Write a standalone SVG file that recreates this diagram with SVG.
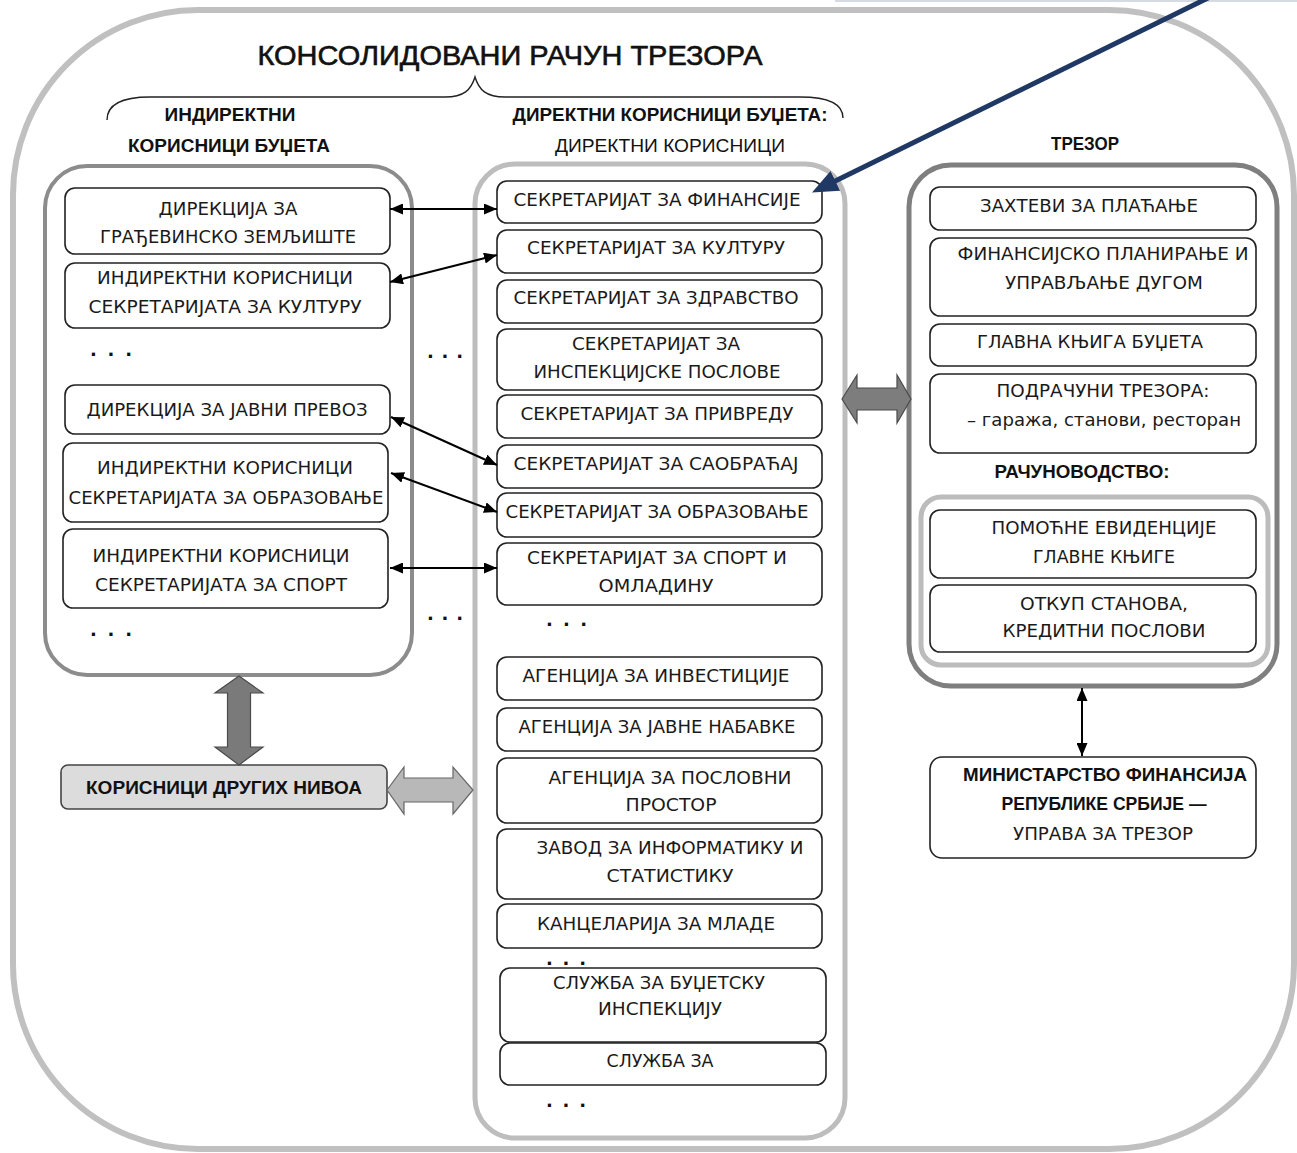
<svg xmlns="http://www.w3.org/2000/svg" width="1297" height="1153" viewBox="0 0 1297 1153">
<style>
.box{fill:#fff;stroke:#222;stroke-width:1.6}
.t{font-family:"DejaVu Sans",Verdana,sans-serif;font-size:18px;fill:#1a1a1a;text-anchor:middle}
.b{font-family:"Liberation Sans",Arial,sans-serif;font-weight:bold;fill:#111;text-anchor:middle}
.n{font-family:"Liberation Sans",Arial,sans-serif;fill:#111;text-anchor:middle}
.dots{font-family:"DejaVu Sans",sans-serif;font-weight:bold;font-size:18px;fill:#111}
.conn{stroke:#000;stroke-width:2;fill:none;marker-start:url(#ah);marker-end:url(#ah)}
.cont{fill:#fff}
</style>
<defs>
<marker id="ah" viewBox="0 0 13 11" refX="13" refY="5.5" markerWidth="13" markerHeight="11" markerUnits="userSpaceOnUse" orient="auto-start-reverse"><path d="M0,0 L13,5.5 L0,11 z" fill="#000"/></marker>
<marker id="blue" viewBox="0 0 26 22" refX="16" refY="11" markerWidth="26" markerHeight="22" markerUnits="userSpaceOnUse" orient="auto"><path d="M0,0 L26,11 L0,22 z" fill="#1f3864"/></marker>
</defs>
<rect width="1297" height="1153" fill="#fff"/>
<line x1="835" y1="1" x2="1297" y2="1" stroke="#d6dae2" stroke-width="2"/>
<g id="frame"><rect x="13" y="10" width="1281" height="1139" rx="185" fill="none" stroke="#c0c0c0" stroke-width="6"/></g>

<g id="title"><text class="n" x="510" y="65" font-size="27" stroke="#111" stroke-width="0.6" textLength="505" lengthAdjust="spacingAndGlyphs">КОНСОЛИДОВАНИ РАЧУН ТРЕЗОРА</text></g>
<g id="brace"><path d="M107,120 C107,105 120,97 150,97 L445,97 C464,97 471,90 475,77 C479,90 486,97 505,97 L800,97 C830,97 843,105 843,118" fill="none" stroke="#222" stroke-width="1.4"/></g>

<g id="h-indirect">
<text class="b" x="230" y="121" font-size="18" textLength="131" lengthAdjust="spacingAndGlyphs">ИНДИРЕКТНИ</text>
<text class="b" x="229" y="152" font-size="18" textLength="202" lengthAdjust="spacingAndGlyphs">КОРИСНИЦИ БУЏЕТА</text>
</g>
<g id="h-direct">
<text class="b" x="670" y="121" font-size="18" textLength="315" lengthAdjust="spacingAndGlyphs">ДИРЕКТНИ КОРИСНИЦИ БУЏЕТА:</text>
<text class="n" x="670" y="152" font-size="18" textLength="230" lengthAdjust="spacingAndGlyphs">ДИРЕКТНИ КОРИСНИЦИ</text>
</g>
<g id="h-trezor"><text class="b" x="1085" y="150" font-size="18" textLength="68" lengthAdjust="spacingAndGlyphs">ТРЕЗОР</text></g>

<g id="left-container"><rect class="cont" x="45" y="166" width="367" height="509" rx="42" stroke="#8c8c8c" stroke-width="4"/></g>
<g id="middle-container"><rect class="cont" x="475" y="164" width="370" height="974" rx="40" stroke="#bdbdbd" stroke-width="5"/></g>
<g id="trezor-container"><rect class="cont" x="909" y="165" width="368" height="521" rx="42" stroke="#7f7f7f" stroke-width="5"/></g>

<g id="L1"><rect class="box" x="65" y="188" width="325" height="66" rx="10"/>
<text class="t" x="228" y="215" textLength="139" lengthAdjust="spacingAndGlyphs">ДИРЕКЦИЈА ЗА</text>
<text class="t" x="228" y="243" textLength="256" lengthAdjust="spacingAndGlyphs">ГРАЂЕВИНСКО ЗЕМЉИШТЕ</text></g>
<g id="L2"><rect class="box" x="65" y="263" width="325" height="65" rx="10"/>
<text class="t" x="225" y="284" textLength="256" lengthAdjust="spacingAndGlyphs">ИНДИРЕКТНИ КОРИСНИЦИ</text>
<text class="t" x="225" y="313" textLength="273" lengthAdjust="spacingAndGlyphs">СЕКРЕТАРИЈАТА ЗА КУЛТУРУ</text></g>
<text class="dots" x="90" y="356" textLength="42" lengthAdjust="spacing">. . .</text>
<g id="L3"><rect class="box" x="65" y="385" width="325" height="49" rx="10"/>
<text class="t" x="227" y="416" textLength="281" lengthAdjust="spacingAndGlyphs">ДИРЕКЦИЈА ЗА ЈАВНИ ПРЕВОЗ</text></g>
<g id="L4"><rect class="box" x="63" y="443" width="325" height="79" rx="10"/>
<text class="t" x="225" y="474" textLength="256" lengthAdjust="spacingAndGlyphs">ИНДИРЕКТНИ КОРИСНИЦИ</text>
<text class="t" x="226" y="504" textLength="315" lengthAdjust="spacingAndGlyphs">СЕКРЕТАРИЈАТА ЗА ОБРАЗОВАЊЕ</text></g>
<g id="L5"><rect class="box" x="63" y="529" width="325" height="79" rx="10"/>
<text class="t" x="221" y="562" textLength="257" lengthAdjust="spacingAndGlyphs">ИНДИРЕКТНИ КОРИСНИЦИ</text>
<text class="t" x="221" y="591" textLength="252" lengthAdjust="spacingAndGlyphs">СЕКРЕТАРИЈАТА ЗА СПОРТ</text></g>
<text class="dots" x="90" y="636" textLength="42" lengthAdjust="spacing">. . .</text>
<text class="dots" x="427" y="358" textLength="36" lengthAdjust="spacing">. . .</text>
<text class="dots" x="427" y="620" textLength="36" lengthAdjust="spacing">. . .</text>

<g id="M1"><rect class="box" x="497" y="181" width="325" height="42" rx="10"/>
<text class="t" x="657" y="206" textLength="287" lengthAdjust="spacingAndGlyphs">СЕКРЕТАРИЈАТ ЗА ФИНАНСИЈЕ</text></g>
<g id="M2"><rect class="box" x="497" y="230" width="325" height="43" rx="10"/>
<text class="t" x="656" y="254" textLength="258" lengthAdjust="spacingAndGlyphs">СЕКРЕТАРИЈАТ ЗА КУЛТУРУ</text></g>
<g id="M3"><rect class="box" x="497" y="280" width="325" height="43" rx="10"/>
<text class="t" x="656" y="304" textLength="285" lengthAdjust="spacingAndGlyphs">СЕКРЕТАРИЈАТ ЗА ЗДРАВСТВО</text></g>
<g id="M4"><rect class="box" x="497" y="329" width="325" height="61" rx="10"/>
<text class="t" x="656" y="350" textLength="168" lengthAdjust="spacingAndGlyphs">СЕКРЕТАРИЈАТ ЗА</text>
<text class="t" x="657" y="378" textLength="247" lengthAdjust="spacingAndGlyphs">ИНСПЕКЦИЈСКЕ ПОСЛОВЕ</text></g>
<g id="M5"><rect class="box" x="497" y="395" width="325" height="43" rx="10"/>
<text class="t" x="657" y="420" textLength="273" lengthAdjust="spacingAndGlyphs">СЕКРЕТАРИЈАТ ЗА ПРИВРЕДУ</text></g>
<g id="M6"><rect class="box" x="497" y="445" width="325" height="43" rx="10"/>
<text class="t" x="656" y="470" textLength="285" lengthAdjust="spacingAndGlyphs">СЕКРЕТАРИЈАТ ЗА САОБРАЋАЈ</text></g>
<g id="M7"><rect class="box" x="497" y="493" width="325" height="44" rx="10"/>
<text class="t" x="657" y="518" textLength="303" lengthAdjust="spacingAndGlyphs">СЕКРЕТАРИЈАТ ЗА ОБРАЗОВАЊЕ</text></g>
<g id="M8"><rect class="box" x="497" y="543" width="325" height="62" rx="10"/>
<text class="t" x="657" y="564" textLength="260" lengthAdjust="spacingAndGlyphs">СЕКРЕТАРИЈАТ ЗА СПОРТ И</text>
<text class="t" x="656" y="592" textLength="115" lengthAdjust="spacingAndGlyphs">ОМЛАДИНУ</text></g>
<text class="dots" x="546" y="626" textLength="41" lengthAdjust="spacing">. . .</text>
<g id="M9"><rect class="box" x="497" y="657" width="325" height="43" rx="10"/>
<text class="t" x="656" y="682" textLength="267" lengthAdjust="spacingAndGlyphs">АГЕНЦИЈА ЗА ИНВЕСТИЦИЈЕ</text></g>
<g id="M10"><rect class="box" x="497" y="708" width="325" height="43" rx="10"/>
<text class="t" x="657" y="733" textLength="277" lengthAdjust="spacingAndGlyphs">АГЕНЦИЈА ЗА ЈАВНЕ НАБАВКЕ</text></g>
<g id="M11"><rect class="box" x="497" y="758" width="325" height="65" rx="10"/>
<text class="t" x="670" y="784" textLength="243" lengthAdjust="spacingAndGlyphs">АГЕНЦИЈА ЗА ПОСЛОВНИ</text>
<text class="t" x="671" y="811" textLength="91" lengthAdjust="spacingAndGlyphs">ПРОСТОР</text></g>
<g id="M12"><rect class="box" x="497" y="829" width="325" height="70" rx="10"/>
<text class="t" x="670" y="854" textLength="267" lengthAdjust="spacingAndGlyphs">ЗАВОД ЗА ИНФОРМАТИКУ И</text>
<text class="t" x="670" y="882" textLength="127" lengthAdjust="spacingAndGlyphs">СТАТИСТИКУ</text></g>
<g id="M13"><rect class="box" x="497" y="904" width="325" height="44" rx="10"/>
<text class="t" x="656" y="930" textLength="238" lengthAdjust="spacingAndGlyphs">КАНЦЕЛАРИЈА ЗА МЛАДЕ</text></g>
<text class="dots" x="546" y="965" textLength="40" lengthAdjust="spacing">. . .</text>
<g id="M14"><rect class="box" x="500" y="968" width="326" height="74" rx="10"/>
<text class="t" x="659" y="989" textLength="212" lengthAdjust="spacingAndGlyphs">СЛУЖБА ЗА БУЏЕТСКУ</text>
<text class="t" x="660" y="1015" textLength="124" lengthAdjust="spacingAndGlyphs">ИНСПЕКЦИЈУ</text></g>
<g id="M15"><rect class="box" x="500" y="1043" width="326" height="42" rx="10"/>
<text class="t" x="660" y="1067" textLength="107" lengthAdjust="spacingAndGlyphs">СЛУЖБА ЗА</text></g>
<text class="dots" x="546" y="1107" textLength="40" lengthAdjust="spacing">. . .</text>

<g id="T1"><rect class="box" x="930" y="187" width="326" height="43" rx="10"/>
<text class="t" x="1089" y="212" textLength="218" lengthAdjust="spacingAndGlyphs">ЗАХТЕВИ ЗА ПЛАЋАЊЕ</text></g>
<g id="T2"><rect class="box" x="930" y="238" width="326" height="78" rx="10"/>
<text class="t" x="1103" y="260" textLength="291" lengthAdjust="spacingAndGlyphs">ФИНАНСИЈСКО ПЛАНИРАЊЕ И</text>
<text class="t" x="1104" y="289" textLength="198" lengthAdjust="spacingAndGlyphs">УПРАВЉАЊЕ ДУГОМ</text></g>
<g id="T3"><rect class="box" x="930" y="324" width="326" height="42" rx="10"/>
<text class="t" x="1090" y="348" textLength="226" lengthAdjust="spacingAndGlyphs">ГЛАВНА КЊИГА БУЏЕТА</text></g>
<g id="T4"><rect class="box" x="930" y="374" width="326" height="79" rx="10"/>
<text class="t" x="1103" y="397" textLength="213" lengthAdjust="spacingAndGlyphs">ПОДРАЧУНИ ТРЕЗОРА:</text>
<text class="t" x="1104" y="426" textLength="274" lengthAdjust="spacingAndGlyphs">– гаража, станови, ресторан</text></g>
<g id="h-racun"><text class="b" x="1082" y="478" font-size="18" textLength="175" lengthAdjust="spacingAndGlyphs">РАЧУНОВОДСТВО:</text></g>
<g id="racun-container"><rect x="921" y="497" width="347" height="168" rx="20" fill="#fff" stroke="#bcbcbc" stroke-width="5"/></g>
<g id="T5"><rect class="box" x="930" y="510" width="326" height="68" rx="10"/>
<text class="t" x="1104" y="534" textLength="225" lengthAdjust="spacingAndGlyphs">ПОМОЋНЕ ЕВИДЕНЦИЈЕ</text>
<text class="t" x="1104" y="563" textLength="142" lengthAdjust="spacingAndGlyphs">ГЛАВНЕ КЊИГЕ</text></g>
<g id="T6"><rect class="box" x="930" y="585" width="326" height="67" rx="10"/>
<text class="t" x="1104" y="610" textLength="168" lengthAdjust="spacingAndGlyphs">ОТКУП СТАНОВА,</text>
<text class="t" x="1104" y="637" textLength="203" lengthAdjust="spacingAndGlyphs">КРЕДИТНИ ПОСЛОВИ</text></g>

<g id="ministry"><rect class="box" x="930" y="757" width="326" height="101" rx="12"/>
<text class="b" x="1105" y="781" font-size="19" textLength="284" lengthAdjust="spacingAndGlyphs">МИНИСТАРСТВО ФИНАНСИЈА</text>
<text class="b" x="1104" y="810" font-size="19" textLength="205" lengthAdjust="spacingAndGlyphs">РЕПУБЛИКЕ СРБИЈЕ —</text>
<text class="t" x="1103" y="840" textLength="180" lengthAdjust="spacingAndGlyphs">УПРАВА ЗА ТРЕЗОР</text></g>

<g id="other-levels"><rect x="61" y="765" width="326" height="44" rx="7" fill="#dcdcdc" stroke="#444" stroke-width="1.6"/>
<text class="b" x="224" y="794" font-size="19" textLength="276" lengthAdjust="spacingAndGlyphs">КОРИСНИЦИ ДРУГИХ НИВОА</text></g>

<g id="connectors">
<polygon points="239,676 263,693 250.5,693 250.5,747 263,747 239,765 215,747 227.5,747 227.5,693 215,693" fill="#7a7a7a" stroke="#4a4a4a" stroke-width="1.2"/>
<polygon points="387,790 404,767 404,778 453,778 453,767 473,790 453,814 453,802 404,802 404,814" fill="#b8b8b8" stroke="#666" stroke-width="1.2"/>
<polygon points="842,399 857,375 857,388 897,388 897,375 911,399 897,423 897,410 857,410 857,423" fill="#7d7d7d" stroke="#4a4a4a" stroke-width="1.2"/>
<line class="conn" x1="390" y1="209" x2="497" y2="209"/>
<line class="conn" x1="390" y1="282" x2="497" y2="255"/>
<line class="conn" x1="391" y1="417" x2="497" y2="465"/>
<line class="conn" x1="391" y1="473" x2="497" y2="512"/>
<line class="conn" x1="390" y1="568" x2="497" y2="568"/>
<line class="conn" x1="1082" y1="688" x2="1082" y2="756"/>
<line x1="1210" y1="-3" x2="821" y2="188" stroke="#1f3864" stroke-width="5" marker-end="url(#blue)"/>
</g>
</svg>
